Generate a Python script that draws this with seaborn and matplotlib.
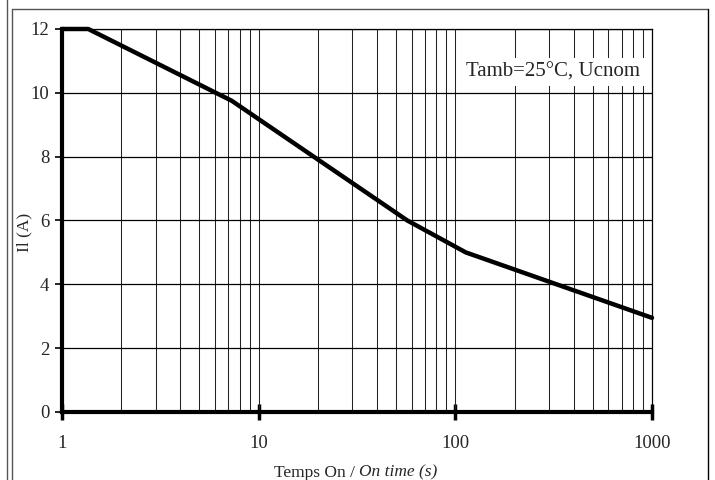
import numpy as np
import pandas as pd
import matplotlib
matplotlib.use('Agg')
import matplotlib.pyplot as plt
from matplotlib.lines import Line2D
from matplotlib.ticker import FixedLocator, NullFormatter
import seaborn as sns

# данные кривой (время включения, ток)
on_time = [1, 1.36, 7.3, 57, 113, 1000]
current = [12, 12, 9.75, 6, 5, 2.95]

x_ticks = [1, 10, 100, 1000]
x_labels = ['1', '10', '100', '1000']
y_ticks = [0, 2, 4, 6, 8, 10, 12]

df = pd.DataFrame({'t': on_time, 'il': current})

sns.set_style('white')
plt.rcParams['font.family'] = ['Liberation Serif', 'DejaVu Serif']

fig = plt.figure(figsize=(7.15, 4.8), dpi=100)
ax = fig.add_axes([0.0867, 0.1417, 0.8252, 0.7979])

# сетка: второстепенные вертикальные линии и горизонтальные
minor = [m * 10 ** d for d in range(3) for m in range(2, 10)] + [10, 100]
for v in minor:
    ax.axvline(v, color='#222222', lw=0.75, zorder=1)
for h in y_ticks[1:]:
    ax.axhline(h, color='black', lw=0.9, zorder=1)

sns.lineplot(data=df, x='t', y='il', color='black', lw=3.2, ax=ax,
             zorder=5, clip_on=False)

ax.set_xscale('log')
ax.set_xlim(1, 1000)
ax.set_ylim(0, 12)

ax.xaxis.set_major_locator(FixedLocator(x_ticks))
ax.set_xticklabels(x_labels)
ax.xaxis.set_minor_formatter(NullFormatter())
ax.xaxis.set_minor_locator(FixedLocator([]))
ax.set_yticks(y_ticks)

ax.tick_params(axis='x', which='major', direction='inout', length=11, width=2.5,
               color='black', labelsize=13.5, pad=11, bottom=True)
ax.tick_params(axis='y', which='major', direction='out', length=5, width=1.2,
               color='black', labelsize=13.5, pad=4, left=True)

for s in ['left', 'bottom']:
    ax.spines[s].set_linewidth(3)
    ax.spines[s].set_color('black')
for s in ['top', 'right']:
    ax.spines[s].set_linewidth(0.9)
    ax.spines[s].set_color('black')
ax.spines['bottom'].set_zorder(6)
ax.spines['left'].set_zorder(6)

ax.set_xlabel('')
ax.set_ylabel('Il (A)', fontsize=12.5)
ax.yaxis.set_label_coords(-0.05, 0.47)

# подпись оси X: обычный и курсивный текст
fig.text(0.502, 0.007, 'Temps On / ', ha='right', va='baseline', fontsize=12.5)
fig.text(0.502, 0.007, 'On time (s)', ha='left', va='baseline', fontsize=12.5,
         style='italic')

ax.text(0.833, 0.888, 'Tamb=25°C, Ucnom', transform=ax.transAxes,
        ha='center', va='center', fontsize=15, zorder=7,
        bbox=dict(facecolor='white', edgecolor='none', pad=3))

# рамка страницы
fig.add_artist(Line2D([0.0098, 0.0098], [0, 1], color='#555555', lw=1))
fig.add_artist(Line2D([0.0168, 0.0168], [0, 0.982], color='#555555', lw=1))
fig.add_artist(Line2D([0.0168, 0.990], [0.982, 0.982], color='#555555', lw=1))
fig.add_artist(Line2D([0.990, 0.990], [0, 0.982], color='black', lw=1))

fig.savefig('out.png', dpi=100)
